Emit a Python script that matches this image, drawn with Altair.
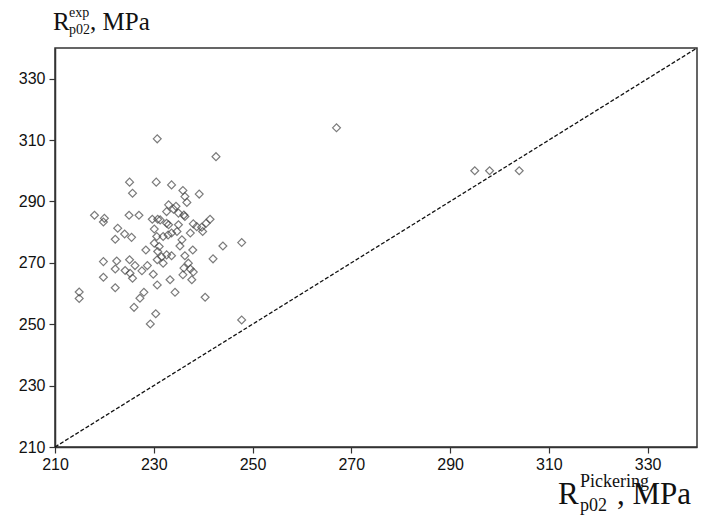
import altair as alt
import pandas as pd

x_pick = [214.9, 214.9, 218.0, 220.0, 219.8, 219.8, 219.8, 222.7, 222.2, 222.5,
          222.2, 222.2, 224.1, 225.5, 225.1, 225.7, 225.0, 227.0, 225.1, 226.2,
          224.2, 225.2, 225.7, 227.6, 228.7, 229.9, 230.7, 228.0, 227.2, 226.0,
          230.4, 229.3, 228.4, 230.8, 230.7, 229.7, 230.8, 230.1, 230.6, 231.9,
          232.9, 230.1, 231.1, 231.6, 232.6, 232.6, 233.6, 235.9, 236.3, 236.7,
          239.2, 233.0, 234.0, 234.5, 235.0, 236.1, 236.3, 231.3, 232.6, 233.0,
          235.0, 234.7, 233.6, 238.0, 238.7, 239.7, 239.9, 241.4, 240.6, 237.4,
          235.7, 235.3, 237.9, 244.0, 247.8, 231.9, 233.6, 236.3, 237.0, 236.1,
          237.4, 238.0, 235.9, 237.7, 233.3, 234.3, 240.4, 242.0, 247.8, 230.5,
          230.7, 242.6, 267.0, 295.0, 298.0, 304.0]
y_exp = [260.5, 258.4, 285.5, 284.5, 283.3, 270.4, 265.3, 281.3, 277.7, 270.6,
         268.0, 261.9, 279.4, 278.3, 296.3, 292.7, 285.5, 285.5, 271.0, 269.1,
         267.5, 266.6, 265.0, 267.4, 269.1, 266.3, 271.0, 260.4, 258.5, 255.5,
         253.4, 250.1, 274.2, 273.7, 262.8, 284.2, 284.2, 281.0, 278.6, 278.6,
         279.1, 276.4, 275.3, 272.0, 272.6, 286.7, 295.4, 293.6, 291.6, 289.7,
         292.4, 288.9, 287.5, 288.4, 286.2, 285.6, 285.1, 284.0, 282.9, 282.4,
         282.4, 280.2, 279.7, 282.7, 281.8, 281.6, 280.2, 284.2, 282.9, 279.7,
         277.5, 275.5, 274.2, 275.5, 276.6, 269.9, 272.3, 272.3, 269.9, 268.3,
         268.0, 267.0, 266.1, 264.5, 264.5, 260.4, 258.8, 271.3, 251.4, 296.3,
         310.4, 304.6, 314.0, 300.0, 300.0, 300.0]

ticks = [210, 230, 250, 270, 290, 310, 330]
line_ends = [210, 340]

pts = pd.DataFrame({"x": x_pick, "y": y_exp})
diag = pd.DataFrame({"x": line_ends, "y": line_ends})

W, H = 642, 399

xs = alt.Scale(domain=[210, 340], nice=False, zero=False)
ys = alt.Scale(domain=[210, 340], nice=False, zero=False)

common = dict(values=ticks, title=None, grid=False, domainColor="#333",
              domainWidth=1.5, tickColor="#333", tickSize=6, tickWidth=1.2,
              labelFont="Liberation Sans", labelFontSize=16, labelColor="#111",
              labelFlush=False, labelOverlap=False)
x_axis = alt.Axis(labelPadding=3, **common)
y_axis = alt.Axis(labelPadding=4, **common)

line = alt.Chart(diag).mark_line(color="#111", strokeDash=[4, 2], strokeWidth=1.3).encode(
    x=alt.X("x:Q", scale=xs, axis=x_axis),
    y=alt.Y("y:Q", scale=ys, axis=y_axis),
)

points = alt.Chart(pts).mark_point(shape="diamond", filled=False, color="#444",
                                   size=62, strokeWidth=1.2).encode(
    x=alt.X("x:Q", scale=xs),
    y=alt.Y("y:Q", scale=ys),
)

serif = "Liberation Serif"

def txt(s, x, y, size, align="left"):
    return alt.Chart(pd.DataFrame({"a": [0]})).mark_text(
        text=s, font=serif, fontSize=size, align=align, baseline="alphabetic", color="#111"
    ).encode(x=alt.value(x), y=alt.value(y))

# y-axis title pieces
ytitle = [
    txt("R", -2, -18, 25),
    txt("exp", 14, -31, 14),
    txt("p02", 14, -14, 14),
    txt(", MPa", 35, -18, 25),
]
# x-axis title pieces
xtitle = [
    txt("R", 503, H + 57, 31),
    txt("Pickering", 525, H + 40, 18),
    txt("p02", 525, H + 64, 18),
    txt(", MPa", 562, H + 57, 31),
]

chart = alt.layer(line, points, *ytitle, *xtitle).properties(
    width=W, height=H,
    autosize="none",
    padding={"left": 55, "top": 48, "right": 5, "bottom": 70},
).configure_view(stroke="#333", strokeWidth=1.5)

chart.save("out.html", embed_options={"renderer": "svg", "actions": False})
